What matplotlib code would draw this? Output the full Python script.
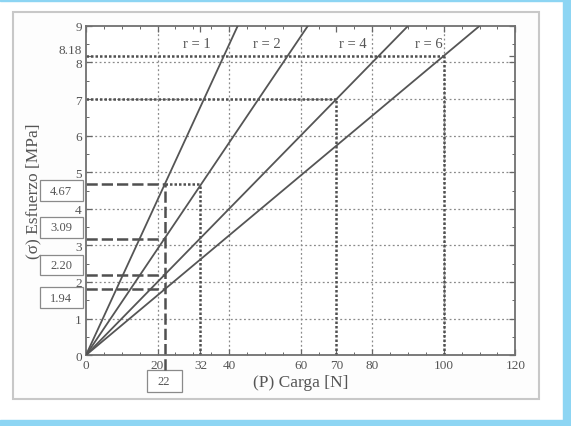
import matplotlib.pyplot as plt
from matplotlib.patches import Rectangle
import matplotlib.transforms as mtransforms

# relaciones r y carga P donde cada recta alcanza sigma = 9 MPa
r_labels = ['r = 1', 'r = 2', 'r = 4', 'r = 6']
p_top = [42.4, 62.0, 90.0, 110.0]
sigma_max = 9

# lecturas marcadas en el grafico
p_read = 22
sigma_read = [4.67, 3.17, 2.20, 1.80]
box_labels = ['4.67', '3.09', '2.20', '1.94']
box_y = [4.50, 3.49, 2.46, 1.575]

x_ticks = [0, 20, 32, 40, 60, 70, 80, 100, 120]
y_ticks = [0, 1, 2, 3, 4, 5, 6, 7, 8, 8.18, 9]
y_ticklabels = ['0', '1', '2', '3', '4', '5', '6', '7', '8', '8.18', '9']

label_pos = [(31, 8.52), (50.4, 8.52), (74.7, 8.52), (95.9, 8.52)]

plt.rcParams['font.family'] = ['Liberation Serif', 'DejaVu Serif']
txt = '#555555'
dark = '#505050'

fig = plt.figure(figsize=(5.71, 4.27), dpi=100)
fig.patch.set_facecolor('white')

# marco azul y panel gris
fig.patches.append(Rectangle((0, 0), 1, 0.014, transform=fig.transFigure,
                             color='#8dd5f3', zorder=-2))
fig.patches.append(Rectangle((0.986, 0), 0.014, 1, transform=fig.transFigure,
                             color='#8dd5f3', zorder=-2))
fig.patches.append(Rectangle((0, 0.996), 1, 0.004, transform=fig.transFigure,
                             color='#8dd5f3', zorder=-2))
fig.patches.append(Rectangle((0.0222, 0.0632), 0.9217, 0.9056, transform=fig.transFigure,
                             facecolor='#fdfdfd', edgecolor='#c8c8c8', lw=1.5, zorder=-1))

ax = fig.add_axes([0.1506, 0.166, 0.752, 0.771])
ax.set_facecolor('white')
ax.set_xlim(0, 120)
ax.set_ylim(0, 9)

# grilla
for gx in [20, 40, 60, 80, 100]:
    ax.axvline(gx, color='#8a8a8a', ls=(0, (1.5, 2)), lw=0.9, zorder=1)
for gy in range(1, 9):
    ax.axhline(gy, color='#8a8a8a', ls=(0, (1.5, 2)), lw=0.9, zorder=1)

# rectas
for pt in p_top:
    ax.plot([0, pt], [0, sigma_max], color='#555555', lw=1.3, zorder=3)

for (lx, ly), lab in zip(label_pos, r_labels):
    ax.text(lx, ly, lab, ha='center', va='center', fontsize=10.5, color=txt, zorder=4)

# lecturas en P = 22
for s in sigma_read:
    ax.plot([0, p_read], [s, s], color=dark, lw=1.8, ls=(0, (4.5, 1.6)), zorder=2)
ax.plot([p_read, p_read], [-0.42, sigma_read[0]], color=dark, lw=1.8,
        ls=(0, (4.5, 1.6)), zorder=2, clip_on=False)

# lineas punteadas oscuras
dot = (0, (1, 0.8))
ax.plot([p_read, 32], [4.67, 4.67], color=dark, lw=1.8, ls=dot, zorder=2)
ax.plot([32, 32], [0, 4.67], color=dark, lw=1.8, ls=dot, zorder=2)
ax.plot([0, 70], [7, 7], color=dark, lw=1.8, ls=dot, zorder=2)
ax.plot([70, 70], [0, 7], color=dark, lw=1.8, ls=dot, zorder=2)
ax.plot([0, 100], [8.18, 8.18], color=dark, lw=1.8, ls=dot, zorder=2)
ax.plot([100, 100], [0, 8.18], color=dark, lw=1.8, ls=dot, zorder=2)

# cajas de valores
trans = mtransforms.blended_transform_factory(ax.transAxes, ax.transData)
for lab, yb in zip(box_labels, box_y):
    ax.add_patch(Rectangle((-0.108, yb - 0.28), 0.101, 0.56, transform=trans,
                           facecolor='white', edgecolor='#8a8a8a', lw=0.9, clip_on=False))
    ax.text(-0.0575, yb, lab, transform=trans, ha='center', va='center',
            fontsize=9, color=txt, clip_on=False)
ax.add_patch(Rectangle((17.0, -1.0), 9.7, 0.58, facecolor='white',
                       edgecolor='#8a8a8a', lw=0.9, clip_on=False))
ax.text(21.85, -0.71, '22', ha='center', va='center', fontsize=9, color=txt, clip_on=False)

# ejes
ax.set_xticks(x_ticks)
ax.set_yticks(y_ticks)
ax.set_yticklabels(y_ticklabels)
ax.set_xticks(range(0, 121, 5), minor=True)
ax.set_yticks([i * 0.5 for i in range(19)], minor=True)
ax.tick_params(which='both', direction='in', top=True, right=True, colors='#666666',
               labelcolor=txt, labelsize=9.5)
ax.tick_params(which='major', length=4, width=0.9)
ax.tick_params(which='minor', length=2, width=0.7)
ax.tick_params(axis='x', pad=3)
ax.tick_params(axis='y', pad=3)
for sp in ax.spines.values():
    sp.set_color('#707070')
    sp.set_linewidth(1.3)

# subir un poco la etiqueta 8.18 para que no tape al 8
lbl = ax.get_yticklabels()[y_ticks.index(8.18)]
lbl.set_transform(lbl.get_transform() + mtransforms.ScaledTranslation(0, 5 / 72, fig.dpi_scale_trans))

ax.set_xlabel('(P) Carga [N]', fontsize=12.5, color='#555555', labelpad=2)
ax.set_ylabel('(σ) Esfuerzo [MPa]', fontsize=12.5, color='#555555', labelpad=12)

fig.savefig('out.png', dpi=100)
